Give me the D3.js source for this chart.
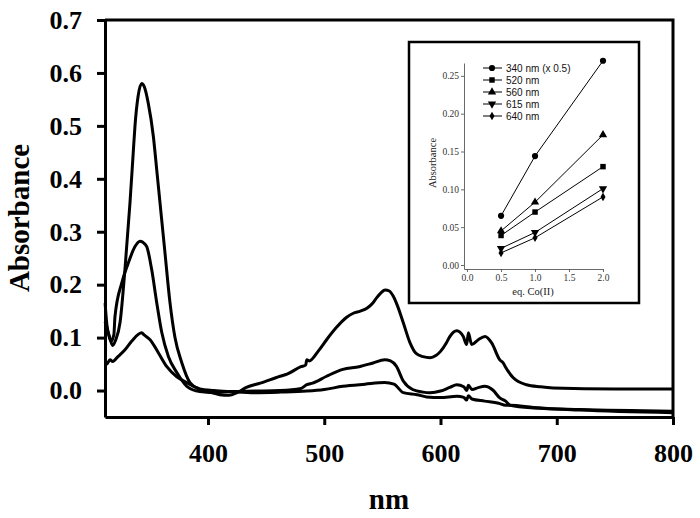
<!DOCTYPE html>
<html>
<head>
<meta charset="utf-8">
<script src="https://cdn.jsdelivr.net/npm/d3@7"></script>
<style>
    body { margin: 0; background: #fff; }
    svg { display: block; }
    .main-axis text { font-family: "Liberation Serif", "Times New Roman", serif; font-weight: bold; font-size: 26px; fill: #000; }
    .inset-axis text { font-family: "Liberation Serif", "Times New Roman", serif; font-size: 9.5px; fill: #333; }
</style>
</head>
<body>
<svg id="mainsvg" width="700" height="518"></svg>
<script>
// spectra: [nm, absorbance]
let specHigh = [
    [311.5,0.165],[313,0.125],[315.5,0.10],[318,0.085],[320.5,0.095],[324.3,0.128],[328.6,0.23],
    [332.9,0.355],[335.7,0.45],[337.2,0.50],[339.8,0.555],[343,0.58],[345,0.575],[348.6,0.543],
    [353,0.48],[355.9,0.417],[358.7,0.355],[363,0.26],[367.3,0.166],[371.6,0.10],[377.4,0.053],
    [384.5,0.015],[393,0.002],[402,-0.003],[410,-0.008],[418,-0.009],[425,-0.004],[433,0.006],
    [445,0.014],[462,0.027],[468,0.031],[480,0.045],[484,0.048],[485,0.058],[487,0.056],[495,0.075],
    [502,0.096],[510,0.118],[519,0.138],[525,0.146],[531,0.150],[537,0.156],[542,0.166],[545,0.175],
    [549,0.185],[552.3,0.19],[556,0.188],[559.4,0.178],[563,0.16],[568,0.128],[573.8,0.09],[579,0.07],
    [585,0.064],[591,0.062],[596,0.066],[600,0.074],[605,0.09],[608,0.102],[614,0.113],[619.6,0.102],
    [622.5,0.087],[624,0.109],[626.8,0.087],[632.5,0.096],[638.3,0.102],[644,0.09],[651,0.058],
    [654,0.052],[655.5,0.046],[662.6,0.024],[674,0.011],[686,0.007],[697,0.005],[750,0.003],[800,0.003]
];
let specMid = [
    [311.5,0.13],[314,0.11],[316.5,0.093],[319,0.105],[320,0.14],[325.9,0.204],[331.3,0.24],
    [337.2,0.272],[341.5,0.282],[344,0.28],[347.3,0.272],[351.6,0.228],[355.9,0.166],[360.2,0.11],
    [366,0.064],[373.2,0.034],[381.8,0.008],[393,-0.002],[405,-0.004],[420,-0.002],[440,-0.001],
    [462,0.000],[480,0.004],[485,0.011],[490,0.014],[502,0.027],[516,0.04],[530,0.045],[542,0.052],
    [552,0.058],[557,0.056],[562,0.046],[568,0.018],[576,0.002],[585,-0.003],[591,-0.004],[600,-0.001],
    [608,0.006],[614,0.011],[620,0.007],[622.5,0.0],[624,0.010],[627,0.002],[633,0.006],[638,0.008],
    [645,0.001],[651,-0.014],[656,-0.02],[660,-0.028],[680,-0.033],[720,-0.036],[800,-0.039]
];
let specLow = [
    [311.5,0.053],[313,0.05],[315.7,0.058],[318,0.055],[322.5,0.064],[328.6,0.077],[334.3,0.093],
    [343,0.109],[345,0.105],[350.2,0.096],[357.4,0.071],[364.6,0.045],[373.2,0.026],[381.8,0.015],
    [393,0.003],[405,0.000],[420,-0.002],[440,-0.004],[462,-0.003],[485,-0.001],[500,0.002],[516,0.008],
    [535,0.012],[552,0.015],[560,0.012],[568,-0.004],[580,-0.008],[588,-0.012],[600,-0.013],[614,-0.011],
    [620,-0.013],[622.5,-0.018],[624,-0.01],[627,-0.016],[638,-0.02],[650,-0.024],[656,-0.028],
    [660,-0.028],[680,-0.032],[720,-0.037],[800,-0.042]
];
let mainYTicks = [0.0, 0.1, 0.2, 0.3, 0.4, 0.5, 0.6, 0.7];
let mainXTicks = [400, 500, 600, 700, 800];

// inset data
let eqCo = [0.5, 1.0, 2.0];
let insetNames = ["340 nm (x 0.5)", "520 nm", "560 nm", "615 nm", "640 nm"];
let insetSymbols = [d3.symbolCircle, d3.symbolSquare, d3.symbolTriangle, "down", d3.symbolDiamond];
let abs340 = [0.065, 0.144, 0.270];
let abs520 = [0.039, 0.070, 0.130];
let abs560 = [0.045, 0.083, 0.172];
let abs615 = [0.022, 0.043, 0.101];
let abs640 = [0.016, 0.036, 0.090];
let insetYTicks = [0.00, 0.05, 0.10, 0.15, 0.20, 0.25];
let insetXTicks = [0.0, 0.5, 1.0, 1.5, 2.0];

let svg = d3.select("#mainsvg");

// ---- main chart ----
let x = d3.scaleLinear().domain([311.4, 800]).range([105, 673]);
let y = d3.scaleLinear().domain([-0.05, 0.7]).range([417, 20]);

svg.append("g").attr("class", "main-axis")
    .attr("transform", "translate(105,0)")
    .call(d3.axisLeft(y).tickValues(mainYTicks).tickFormat(d3.format(".1f"))
        .tickSize(8).tickSizeOuter(0).tickPadding(15));
svg.append("g").attr("class", "main-axis")
    .attr("transform", "translate(0,417)")
    .call(d3.axisBottom(x).tickValues(mainXTicks).tickFormat(d3.format("d"))
        .tickSize(8).tickSizeOuter(0).tickPadding(19));
svg.selectAll(".main-axis path, .main-axis line").attr("stroke", "#000").attr("stroke-width", 3);

// frame top and right
svg.append("path")
    .attr("d", "M" + x(311.4) + "," + y(0.7) + "H" + x(800) + "V" + y(-0.05))
    .attr("fill", "none").attr("stroke", "#000").attr("stroke-width", 3);

let line = d3.line().x(d => x(d[0])).y(d => y(d[1])).curve(d3.curveMonotoneX);
[specHigh, specMid, specLow].forEach(function (s) {
    svg.append("path").datum(s)
        .attr("d", line)
        .attr("fill", "none").attr("stroke", "#000").attr("stroke-width", 3)
        .attr("stroke-linejoin", "round");
});

svg.append("text")
    .attr("transform", "translate(29,218) rotate(-90)")
    .attr("text-anchor", "middle")
    .style("font-family", "Liberation Serif, serif").style("font-weight", "bold").style("font-size", "29px")
    .text("Absorbance");
svg.append("text")
    .attr("x", 389).attr("y", 509)
    .attr("text-anchor", "middle")
    .style("font-family", "Liberation Serif, serif").style("font-weight", "bold").style("font-size", "29px")
    .text("nm");

// ---- inset ----
svg.append("rect")
    .attr("x", 409).attr("y", 42).attr("width", 230).attr("height", 261)
    .attr("fill", "#fff").attr("stroke", "#000").attr("stroke-width", 2.5);

let ix = d3.scaleLinear().domain([-0.045, 2.0]).range([464, 603]);
let iy = d3.scaleLinear().domain([-0.0053, 0.267]).range([269, 63]);

svg.append("g").attr("class", "inset-axis")
    .attr("transform", "translate(464,0)")
    .call(d3.axisLeft(iy).tickValues(insetYTicks).tickFormat(d3.format(".2f"))
        .tickSize(3).tickSizeOuter(0).tickPadding(2));
svg.append("g").attr("class", "inset-axis")
    .attr("transform", "translate(0,269)")
    .call(d3.axisBottom(ix).tickValues(insetXTicks).tickFormat(d3.format(".1f"))
        .tickSize(3).tickSizeOuter(0).tickPadding(2));
svg.selectAll(".inset-axis path, .inset-axis line").attr("stroke", "#444").attr("stroke-width", 0.8);

svg.append("text")
    .attr("transform", "translate(436,163) rotate(-90)")
    .attr("text-anchor", "middle")
    .style("font-family", "Liberation Serif, serif").style("font-size", "10.5px").style("fill", "#222")
    .text("Absorbance");
svg.append("text")
    .attr("x", 533).attr("y", 295)
    .attr("text-anchor", "middle")
    .style("font-family", "Liberation Serif, serif").style("font-size", "10.5px").style("fill", "#222")
    .text("eq. Co(II)");

function symbolPath(sym) {
    if (sym === "down") {
        return d3.symbol().type(d3.symbolTriangle).size(30)();
    }
    return d3.symbol().type(sym).size(sym === d3.symbolDiamond ? 22 : 30)();
}

let insetSeries = [abs340, abs520, abs560, abs615, abs640];
let iline = d3.line().x((d, i) => ix(eqCo[i])).y(d => iy(d));
insetSeries.forEach(function (vals, k) {
    svg.append("path").datum(vals)
        .attr("d", iline)
        .attr("fill", "none").attr("stroke", "#000").attr("stroke-width", 1);
    svg.selectAll(null).data(vals).enter()
        .append("path")
        .attr("d", symbolPath(insetSymbols[k]))
        .attr("transform", function (d, i) {
            let t = "translate(" + ix(eqCo[i]) + "," + iy(d) + ")";
            return insetSymbols[k] === "down" ? t + " rotate(180)" : t;
        })
        .attr("fill", "#000");
});

// legend
let legend = svg.append("g");
insetNames.forEach(function (name, k) {
    let ly = 68 + k * 12;
    legend.append("line")
        .attr("x1", 483).attr("x2", 502).attr("y1", ly).attr("y2", ly)
        .attr("stroke", "#000").attr("stroke-width", 1);
    legend.append("path")
        .attr("d", symbolPath(insetSymbols[k]))
        .attr("transform", "translate(492," + ly + ")" + (insetSymbols[k] === "down" ? " rotate(180)" : ""))
        .attr("fill", "#000");
    legend.append("text")
        .attr("x", 506).attr("y", ly).attr("dy", "0.35em")
        .style("font-family", "Liberation Sans, Arial, sans-serif").style("font-size", "10px").style("fill", "#111")
        .text(name);
});
</script>
</body>
</html>
